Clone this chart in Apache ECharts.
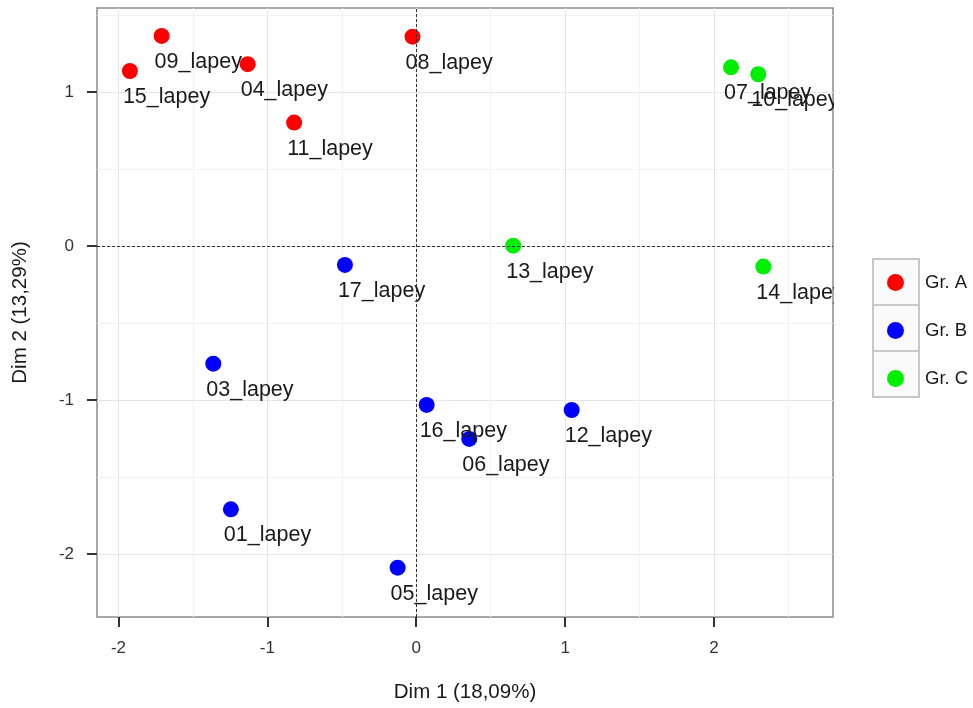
<!DOCTYPE html>
<html>
<head>
<meta charset="utf-8">
<script src="https://cdn.jsdelivr.net/npm/echarts@6/dist/echarts.min.js"></script>
<style>
  html, body { margin: 0; padding: 0; background: #fff; }
  #main { width: 973px; height: 708px; }
</style>
</head>
<body>
<div id="main"></div>
<script>
// groups
const groupNames = ['Gr. A', 'Gr. B', 'Gr. C'];
const groupColors = ['#ff0000', '#0000ff', '#00ee00'];

// Gr. A
const labelsA = ['09_lapey', '15_lapey', '04_lapey', '11_lapey', '08_lapey'];
const dim1A = [-1.71, -1.923, -1.132, -0.82, -0.025];
const dim2A = [1.364, 1.136, 1.18, 0.801, 1.359];

// Gr. B
const labelsB = ['17_lapey', '03_lapey', '16_lapey', '06_lapey', '12_lapey', '01_lapey', '05_lapey'];
const dim1B = [-0.479, -1.363, 0.07, 0.356, 1.044, -1.245, -0.125];
const dim2B = [-0.123, -0.764, -1.032, -1.253, -1.065, -1.71, -2.089];

// Gr. C
const labelsC = ['07_lapey', '10_lapey', '13_lapey', '14_lapey'];
const dim1C = [2.114, 2.297, 0.651, 2.331];
const dim2C = [1.16, 1.115, 0.002, -0.134];

// axes
const xRange = [-2.144, 2.799];
const yRange = [-2.409, 1.545];
const xTicks = [-2, -1, 0, 1, 2];
const xMinor = [-1.5, -0.5, 0.5, 1.5, 2.5];
const yTicks = [-2, -1, 0, 1];
const yMinor = [-1.5, -0.5, 0.5, 1.5];

const FONT = '"Liberation Sans", Arial, sans-serif';

const toPoints = (labels, xs, ys) => labels.map((n, i) => ({ name: n, value: [xs[i], ys[i]] }));
const groupData = [
    toPoints(labelsA, dim1A, dim2A),
    toPoints(labelsB, dim1B, dim2B),
    toPoints(labelsC, dim1C, dim2C)
];

const chart = echarts.init(document.getElementById('main'));

const mainAxis = (range, ticks, name, gap) => ({
    type: 'value',
    min: range[0],
    max: range[1],
    name: name,
    nameLocation: 'middle',
    nameGap: gap,
    nameTextStyle: { fontSize: 20.5, color: '#1a1a1a', fontFamily: FONT },
    axisLine: { show: false, onZero: false },
    axisTick: { show: true, length: 10, customValues: ticks, lineStyle: { color: '#333', width: 2 } },
    axisLabel: { customValues: ticks, fontSize: 17, color: '#333', margin: 23, fontFamily: FONT },
    splitLine: { show: true, lineStyle: { color: '#e6e6e6', width: 1 } }
});

const minorAxis = (range, ticks, pos) => ({
    type: 'value',
    min: range[0],
    max: range[1],
    position: pos,
    axisLine: { show: false, onZero: false },
    axisTick: { show: false, customValues: ticks },
    axisLabel: { show: false, customValues: ticks },
    splitLine: { show: true, lineStyle: { color: '#f3f3f3', width: 1 } }
});

const series = groupNames.map((g, i) => ({
    name: g,
    type: 'scatter',
    xAxisIndex: 0,
    yAxisIndex: 0,
    symbolSize: 16,
    itemStyle: { color: groupColors[i], opacity: 1 },
    label: {
        show: true,
        formatter: '{b}',
        position: [1, 34],
        align: 'left',
        verticalAlign: 'middle',
        fontSize: 21.5,
        color: '#1a1a1a',
        fontFamily: FONT
    },
    data: groupData[i]
}));

// dashed lines through the origin
series[0].markLine = {
    silent: true,
    symbol: ['none', 'none'],
    label: { show: false },
    lineStyle: { color: '#333', type: [3, 2], width: 1 },
    data: [{ xAxis: 0 }, { yAxis: 0 }]
};

const legendBoxes = groupNames.map((g, i) => ({
    type: 'rect',
    left: 872,
    top: 258 + i * 46,
    z: 1,
    shape: { width: 46, height: 46 },
    style: { fill: '#fafafa', stroke: '#c8c8c8', lineWidth: 2 }
}));

chart.setOption({
    backgroundColor: '#fff',
    animation: false,
    textStyle: { fontFamily: FONT },
    grid: {
        left: 97, right: 140, top: 8, bottom: 91,
        show: true, borderColor: '#8c8c8c', borderWidth: 1.5, backgroundColor: '#fff'
    },
    xAxis: [
        mainAxis(xRange, xTicks, 'Dim 1 (18,09%)', 65),
        minorAxis(xRange, xMinor, 'top')
    ],
    yAxis: [
        mainAxis(yRange, yTicks, 'Dim 2 (13,29%)', 66),
        minorAxis(yRange, yMinor, 'right')
    ],
    legend: {
        orient: 'vertical',
        left: 887,
        top: 273,
        padding: 0,
        z: 5,
        icon: 'circle',
        itemWidth: 17,
        itemHeight: 17,
        itemGap: 29,
        textStyle: { fontSize: 18.5, color: '#1a1a1a', fontFamily: FONT, padding: [0, 0, 0, 16] },
        data: groupNames
    },
    graphic: [
        // hide label overflow right of the panel
        { type: 'rect', left: 834, top: 0, z: 100, shape: { width: 36, height: 708 }, style: { fill: '#fff' } }
    ].concat(legendBoxes),
    series: series
});
</script>
</body>
</html>
